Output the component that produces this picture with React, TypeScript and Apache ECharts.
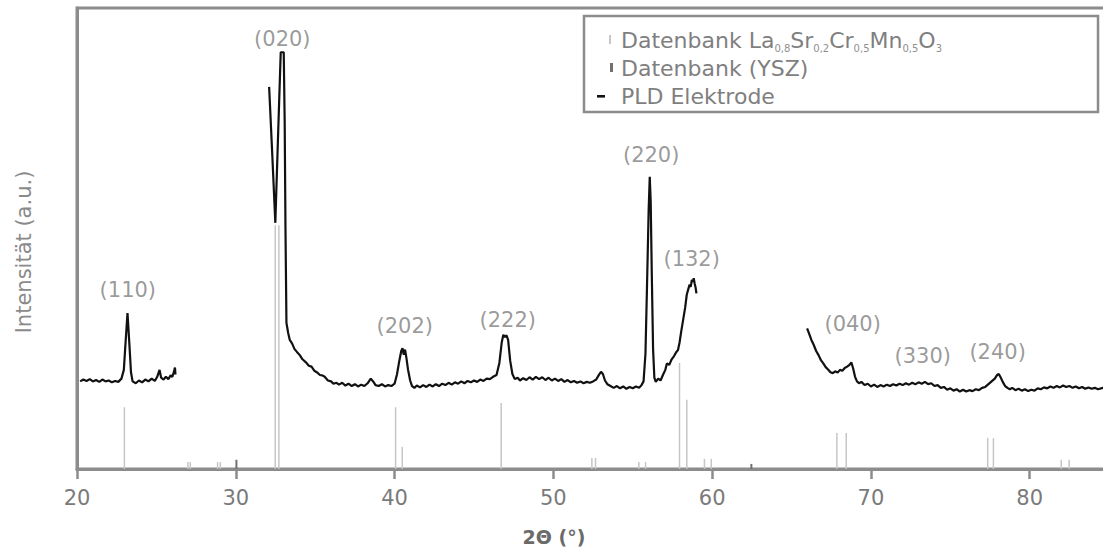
import { useEffect, useRef } from 'react';
import * as echarts from 'echarts';

// ---- data ----
const xTickValues = [20, 30, 40, 50, 60, 70, 80];

const lscmName = 'Datenbank La0,8Sr0,2Cr0,5Mn0,5O3';
const yszName = 'Datenbank (YSZ)';
const pldName = 'PLD Elektrode';

const lscmPos = [23.0, 27.0, 27.15, 28.87, 29.04, 32.5, 32.73, 40.08, 40.5, 46.73, 52.44, 52.67, 55.4, 55.82, 57.96, 58.42, 59.53, 59.96, 67.87, 68.46, 77.37, 77.73, 82.0, 82.5];
const lscmInt = [13.4, 1.5, 1.5, 1.5, 1.5, 52.9, 52.9, 13.4, 4.8, 14.3, 2.4, 2.4, 1.5, 1.5, 23.0, 15.0, 2.2, 2.2, 7.8, 7.8, 6.7, 6.7, 2.0, 2.0];

const yszPos = [30.04, 62.47];
const yszInt = [2.0, 1.1];

const pldSeg1: number[][] = [
  [20.2, 19.0], [20.4, 19.4], [20.6, 19.1], [20.8, 19.5], [21.0, 19.0], [21.2, 19.3], [21.4, 18.9], [21.6, 19.4],
  [21.8, 19.0], [22.0, 19.2], [22.2, 18.8], [22.4, 19.1], [22.6, 18.9], [22.8, 19.6], [22.95, 21.5], [23.05, 27.0],
  [23.18, 33.8], [23.3, 27.0], [23.4, 21.0], [23.5, 19.0], [23.7, 18.6], [23.9, 19.2], [24.1, 18.8], [24.3, 19.4],
  [24.5, 19.0], [24.7, 19.6], [24.9, 19.1], [25.05, 20.0], [25.2, 21.5], [25.3, 19.8], [25.45, 19.4], [25.6, 20.0],
  [25.75, 19.5], [25.9, 20.3], [26.0, 20.0], [26.1, 21.0], [26.17, 22.0], [26.2, 20.5],
];

const pldSeg2: number[][] = [
  [32.1, 82.9], [32.3, 68.0], [32.49, 53.4], [32.66, 72.0], [32.83, 90.4], [33.02, 90.4], [33.08, 75.0], [33.13, 52.0],
  [33.19, 31.7], [33.3, 29.5], [33.4, 28.0], [33.55, 27.2], [33.7, 26.0], [33.85, 25.4], [34.03, 24.7], [34.2, 23.8],
  [34.4, 23.2], [34.6, 22.4], [34.77, 22.2], [34.95, 21.3], [35.1, 21.0], [35.3, 20.4], [35.45, 20.3], [35.6, 20.0],
  [35.8, 19.2], [36.0, 19.0], [36.15, 18.5], [36.34, 18.7], [36.5, 18.3], [36.7, 18.7], [36.9, 18.1], [37.1, 18.5],
  [37.3, 18.0], [37.5, 18.4], [37.7, 17.9], [37.9, 18.3], [38.1, 18.0], [38.3, 18.6], [38.5, 19.6], [38.65, 19.0],
  [38.8, 18.2], [39.0, 18.0], [39.2, 18.4], [39.4, 17.9], [39.6, 18.2], [39.8, 18.0], [40.0, 18.5], [40.15, 20.5],
  [40.3, 23.5], [40.42, 25.6], [40.5, 26.2], [40.58, 24.8], [40.66, 25.9], [40.75, 24.0], [40.85, 21.5], [40.98, 19.2],
  [41.1, 18.0], [41.25, 17.6], [41.4, 18.1], [41.6, 17.7], [41.8, 18.2], [42.0, 17.8], [42.2, 18.3], [42.4, 17.9],
  [42.6, 18.4], [42.8, 18.0], [43.0, 18.5], [43.2, 18.2], [43.4, 18.7], [43.6, 18.3], [43.8, 18.8], [44.0, 18.5],
  [44.2, 19.0], [44.4, 18.6], [44.6, 19.1], [44.8, 18.8], [45.0, 19.2], [45.2, 18.9], [45.4, 19.4], [45.6, 19.1],
  [45.8, 19.6], [46.0, 19.5], [46.2, 20.0], [46.42, 20.4], [46.6, 23.0], [46.75, 27.5], [46.85, 29.1], [46.95, 28.6],
  [47.05, 29.0], [47.15, 28.0], [47.28, 23.5], [47.42, 20.6], [47.57, 19.5], [47.75, 19.8], [47.9, 19.2], [48.1, 19.7],
  [48.3, 19.3], [48.5, 19.9], [48.7, 19.4], [48.9, 20.0], [49.1, 19.5], [49.3, 19.9], [49.5, 19.3], [49.7, 19.8],
  [49.9, 19.2], [50.1, 19.6], [50.3, 19.1], [50.5, 19.5], [50.7, 18.9], [50.9, 19.3], [51.1, 18.8], [51.3, 19.1],
  [51.5, 18.7], [51.7, 19.0], [51.9, 18.6], [52.1, 18.9], [52.3, 18.7], [52.5, 19.0], [52.7, 19.4], [52.85, 20.3],
  [53.0, 21.1], [53.12, 20.6], [53.25, 19.2], [53.4, 18.4], [53.6, 18.0], [53.8, 17.6], [54.0, 18.0], [54.2, 17.5],
  [54.4, 17.9], [54.6, 17.4], [54.8, 17.8], [55.0, 17.5], [55.2, 17.9], [55.4, 17.6], [55.55, 18.2], [55.68, 19.0],
  [55.8, 25.0], [55.9, 40.0], [56.0, 56.0], [56.07, 63.4], [56.13, 58.0], [56.2, 42.0], [56.28, 26.0], [56.36, 19.8],
  [56.45, 18.9], [56.6, 19.6], [56.75, 19.2], [56.9, 20.4], [57.05, 21.5], [57.15, 22.9], [57.3, 22.6], [57.45, 23.8],
  [57.6, 24.5], [57.75, 25.4], [57.85, 25.8], [57.95, 27.5], [58.05, 29.8], [58.17, 32.3], [58.3, 35.0], [58.4, 37.8],
  [58.48, 38.8], [58.58, 40.0], [58.65, 39.5], [58.72, 41.0], [58.8, 40.6], [58.84, 41.4], [58.9, 40.2], [58.95, 39.5],
  [59.01, 38.1],
];

const pldSeg3: number[][] = [
  [65.98, 30.5], [66.1, 29.4], [66.25, 28.0], [66.4, 26.9], [66.55, 25.6], [66.7, 24.7], [66.85, 23.6], [67.0, 22.9],
  [67.15, 22.1], [67.3, 21.6], [67.45, 21.0], [67.6, 20.8], [67.75, 21.2], [67.9, 20.9], [68.05, 21.5], [68.2, 21.3],
  [68.35, 21.9], [68.5, 22.2], [68.65, 22.6], [68.77, 23.1], [68.88, 21.8], [69.0, 20.0], [69.12, 19.0], [69.25, 18.6],
  [69.4, 18.9], [69.6, 18.2], [69.8, 18.5], [70.0, 17.9], [70.2, 18.3], [70.4, 17.8], [70.6, 18.2], [70.8, 17.9],
  [71.0, 18.3], [71.2, 18.0], [71.4, 18.4], [71.6, 18.1], [71.8, 18.5], [72.0, 18.2], [72.2, 18.6], [72.4, 18.3],
  [72.6, 18.7], [72.8, 18.4], [73.0, 18.8], [73.2, 18.5], [73.4, 18.9], [73.6, 18.4], [73.8, 18.6], [74.0, 18.0],
  [74.2, 18.2], [74.4, 17.6], [74.6, 17.8], [74.8, 17.2], [75.0, 17.5], [75.2, 17.0], [75.4, 17.3], [75.6, 16.8],
  [75.8, 17.2], [76.0, 16.8], [76.2, 17.1], [76.4, 16.9], [76.6, 17.3], [76.8, 17.1], [77.0, 17.6], [77.2, 17.8],
  [77.4, 18.4], [77.6, 19.0], [77.8, 19.6], [77.95, 20.4], [78.05, 20.6], [78.15, 20.0], [78.3, 18.9], [78.45, 18.0],
  [78.6, 17.6], [78.75, 17.3], [78.9, 17.6], [79.1, 17.1], [79.3, 17.4], [79.5, 17.0], [79.7, 17.3], [79.9, 16.9],
  [80.1, 17.2], [80.3, 17.0], [80.5, 17.5], [80.7, 17.3], [80.9, 17.7], [81.1, 17.5], [81.3, 17.9], [81.5, 17.6],
  [81.7, 18.0], [81.9, 17.7], [82.1, 18.1], [82.3, 17.8], [82.5, 18.0], [82.7, 17.6], [82.9, 17.9], [83.1, 17.5],
  [83.3, 17.8], [83.5, 17.4], [83.7, 17.7], [83.9, 17.4], [84.1, 17.6], [84.3, 17.3], [84.6, 17.6], [85.0, 17.4],
  [85.5, 17.7],
];

const peakLabels = ['(110)', '(020)', '(202)', '(222)', '(220)', '(132)', '(040)', '(330)', '(240)'];
const peakLabelX = [23.2, 32.93, 40.64, 47.13, 56.16, 58.71, 68.85, 73.26, 77.98];
const peakLabelY = [38.8, 93.3, 31.0, 32.3, 68.1, 45.6, 31.5, 24.5, 25.4];

const xAxisTitle = '2Θ (°)';
const yAxisTitle = 'Intensität (a.u.)';

const FONT = 'DejaVu Sans';

export default function App() {
  const ref = useRef<HTMLDivElement>(null);
  useEffect(() => {
    if (!ref.current) return;
    const chart = echarts.init(ref.current, undefined, { renderer: 'svg' });
    const grey = '#8c8c8c';
    const pldStyle = {
      type: 'line' as const,
      name: pldName,
      showSymbol: false,
      symbol: 'none',
      color: '#111',
      lineStyle: { color: '#111', width: 2.2 },
      z: 5,
    };
    chart.setOption({
      animation: false,
      backgroundColor: '#fff',
      grid: {
        left: 77, top: 8, right: 0, bottom: 84,
        show: true, borderColor: grey, borderWidth: 3, backgroundColor: 'transparent',
      },
      xAxis: {
        type: 'value', min: 20, max: 86, interval: 10,
        axisLine: { show: true, lineStyle: { color: grey, width: 3 } },
        axisTick: { show: true, length: 10, lineStyle: { color: grey, width: 2.5 } },
        axisLabel: {
          color: '#7a7a7a', fontSize: 21, fontFamily: FONT, margin: 18,
          showMaxLabel: false,
          formatter: (v: number) => (xTickValues.includes(v) ? String(v) : ''),
        },
        splitLine: { show: false },
      },
      yAxis: {
        type: 'value', min: 0, max: 100,
        axisLine: { show: true, lineStyle: { color: grey, width: 3 } },
        axisTick: { show: false },
        axisLabel: { show: false },
        splitLine: { show: false },
      },
      legend: {
        orient: 'vertical',
        left: 584, top: 16,
        padding: [11, 156, 3, 8],
        itemGap: 2,
        itemWidth: 24, itemHeight: 12,
        backgroundColor: '#fff',
        borderColor: grey, borderWidth: 2.5,
        selectedMode: false,
        textStyle: {
          color: '#7f7f7f', fontSize: 22, fontFamily: FONT, lineHeight: 26,
          rich: {
            sub: { fontSize: 10, fontFamily: FONT, color: '#8f8f8f', verticalAlign: 'bottom', lineHeight: 12 },
          },
        },
        formatter: (name: string) =>
          name === lscmName ? 'Datenbank La{sub|0,8}Sr{sub|0,2}Cr{sub|0,5}Mn{sub|0,5}O{sub|3}' : name,
        data: [
          { name: lscmName, icon: 'path://M0,0M24,12M17,1h2v9h-2z' },
          { name: yszName, icon: 'path://M0,0M24,12M18,1h3v9h-3z' },
          { name: pldName, icon: 'path://M0,0M24,12M5,5h8v2.6h-8z' },
        ],
      },
      graphic: [
        {
          type: 'text', x: 554, y: 537,
          style: { text: xAxisTitle, fill: '#6a6a6a', fontSize: 19, fontWeight: 'bold', fontFamily: FONT, align: 'center', verticalAlign: 'middle' },
        },
        {
          type: 'text', x: 24, y: 252, rotation: Math.PI / 2,
          style: { text: yAxisTitle, fill: '#8a8a8a', fontSize: 21, fontFamily: FONT, align: 'center', verticalAlign: 'middle' },
        },
      ],
      series: [
        {
          type: 'bar', name: lscmName, color: '#c6c6c6', barWidth: 1.5, z: 2,
          itemStyle: { color: '#c6c6c6' },
          data: lscmPos.map((x, i) => [x, lscmInt[i]]),
        },
        {
          type: 'bar', name: yszName, color: '#707070', barWidth: 2, z: 3, barGap: '-100%',
          itemStyle: { color: '#707070' },
          data: yszPos.map((x, i) => [x, yszInt[i]]),
        },
        { ...pldStyle, data: pldSeg1 },
        { ...pldStyle, data: pldSeg2 },
        { ...pldStyle, data: pldSeg3 },
        {
          type: 'scatter', name: 'labels', symbolSize: 0.1, silent: true, z: 6,
          itemStyle: { color: 'transparent' },
          label: { show: true, position: 'inside', formatter: '{b}', color: '#7f7f7f', fontSize: 21, fontFamily: FONT },
          data: peakLabels.map((n, i) => ({ name: n, value: [peakLabelX[i], peakLabelY[i]] })),
        },
      ],
    });
    return () => chart.dispose();
  }, []);
  return (
    <div style={{ position: 'absolute', left: 0, top: 0, width: 1103, height: 553, overflow: 'hidden' }}>
      <div ref={ref} style={{ width: 1125, height: 553 }} />
    </div>
  );
}
